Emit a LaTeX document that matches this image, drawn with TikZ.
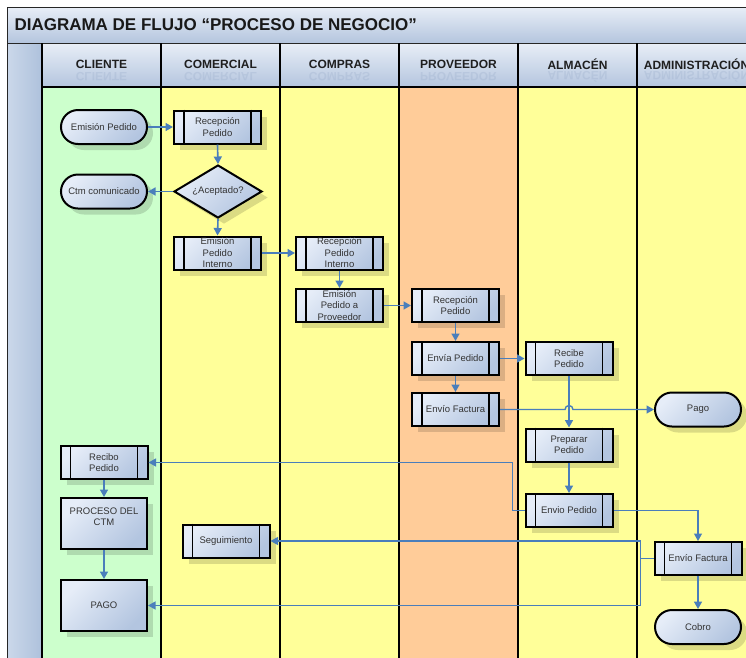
\documentclass[tikz,border=0pt]{standalone}
\usepackage{fontspec}
\setmainfont{Liberation Sans}
\usetikzlibrary{shapes.geometric,arrows.meta,shadows,calc}

\definecolor{lgreen}{HTML}{CCFFCC}
\definecolor{lyellow}{HTML}{FFFF99}
\definecolor{lpeach}{HTML}{FFCC99}
\definecolor{hdtop}{HTML}{E8EEF7}
\definecolor{hdbot}{HTML}{B4C5DE}
\definecolor{bxlight}{HTML}{E6EDF8}
\definecolor{bxdark}{HTML}{B3C5E0}
\definecolor{barl}{HTML}{CBD8EA}
\definecolor{bard}{HTML}{AEC1DC}
\definecolor{cblue}{HTML}{4A7EBB}
\definecolor{txt}{HTML}{333333}
\definecolor{refl}{HTML}{8A9FC0}

\newcommand\ppnode[4]{%
  \node[proc] (#1) at (#2) {#4};
  \draw[line width=1.8pt] ([xshift=#3pt]#1.north west) -- ([xshift=#3pt]#1.south west);
  \draw[line width=1.8pt] ([xshift=-#3pt]#1.north east) -- ([xshift=-#3pt]#1.south east);
}

\begin{document}
\begin{tikzpicture}[x=1pt,y=-1pt,
  box/.style={draw=black, line width=2pt, top color=bxlight, bottom color=bxdark,
    shading angle=45, text=txt, font=\fontsize{9.5}{11.5}\selectfont, align=center,
    inner sep=1pt,
    drop shadow={shadow xshift=6pt, shadow yshift=-6pt, fill=black, opacity=0.14}},
  term/.style={box, rectangle, rounded corners=17pt, minimum width=86pt, minimum height=34pt},
  proc/.style={box, rectangle, minimum width=87pt, minimum height=33pt},
  rectb/.style={box, rectangle, minimum width=86pt, minimum height=51pt},
  dec/.style={box, diamond, minimum width=88pt, minimum height=53pt, aspect=1.66, inner sep=0pt},
  hdr/.style={font=\bfseries\fontsize{12}{14}\selectfont, text=black!88},
  hrefl/.style={hdr, text=refl, opacity=0.22, yscale=-1, transform shape},
  conn/.style={draw=cblue, line width=1.6pt, -{Triangle[length=7.5pt,width=8pt]}},
  thinc/.style={conn, line width=1.2pt},
]
\useasboundingbox (0,0) rectangle (746,657);
\clip (0,0) rectangle (746,657);
\fill[white] (0,0) rectangle (746,657);

% lanes
\fill[lgreen]  (42,87) rectangle (161,660);
\fill[lyellow] (161,87) rectangle (399,660);
\fill[lpeach]  (399,87) rectangle (518,660);
\fill[lyellow] (518,87) rectangle (760,660);

% title bar
\shade[top color=hdtop, bottom color=hdbot] (7,7) rectangle (760,43);
% left bar
\shade[left color=barl, right color=bard] (7,43) rectangle (42,660);
% headers
\foreach \a/\b in {42/161,161/280,280/399,399/518,518/637,637/760}
  \shade[top color=hdtop, bottom color=hdbot] (\a,43) rectangle (\b,87);

\node[anchor=west, font=\bfseries\fontsize{17}{20}\selectfont, text=black!90] (title) at (11,25)
  {DIAGRAMA DE FLUJO “PROCESO DE NEGOCIO”};

\begin{scope}
  \clip (42,43) rectangle (760,86);
  \node[hrefl] at (101.5,77) {CLIENTE};
  \node[hrefl] at (220.5,77) {COMERCIAL};
  \node[hrefl] at (339.5,77) {COMPRAS};
  \node[hrefl] at (458.5,77) {PROVEEDOR};
  \node[hrefl] at (577.5,77) {ALMACÉN};
  \node[hrefl] at (696.5,77) {ADMINISTRACIÓN};
\end{scope}
\node[hdr] (h1) at (101.5,64) {CLIENTE};
\node[hdr] (h2) at (220.5,64) {COMERCIAL};
\node[hdr] (h3) at (339.5,64) {COMPRAS};
\node[hdr] (h4) at (458.5,64) {PROVEEDOR};
\node[hdr] (h5) at (577.5,64) {ALMACÉN};
\node[hdr] (h6) at (696.5,64) {ADMINISTRACIÓN};

% frame lines
\draw[black!85, line width=1pt] (7,7) -- (760,7);
\draw[black!85, line width=1pt] (7,7) -- (7,660);
\draw[black!85, line width=1pt] (7,43) -- (760,43);
\draw[line width=2.4pt] (42,87) -- (760,87);
\foreach \x in {42,161,280,399,518,637}
  \draw[line width=2.4pt] (\x,43) -- (\x,660);

% nodes
\node[term] (ep1) at (104,127) {Emisión Pedido};
\ppnode{rp1}{217.5,127}{11}{Recepción\\Pedido}
\node[dec] (acc) at (218,191.5) {¿Aceptado?};
\node[term] (ctm) at (104,191.5) {Ctm comunicado};
\ppnode{epi}{217.5,253}{11}{Emisión\\Pedido\\Interno}
\ppnode{rpi}{339.5,253}{11}{Recepción\\Pedido\\Interno}
\ppnode{epp}{339.5,305.5}{11}{Emisión\\Pedido a\\Proveedor}
\ppnode{rpp}{455.5,305.5}{11}{Recepción\\Pedido}
\ppnode{envp}{455.5,358.5}{11}{Envía Pedido}
\ppnode{envf}{455.5,409.5}{11}{Envío Factura}
\ppnode{recp}{569,358.5}{11}{Recibe\\Pedido}
\node[term] (pago1) at (698,409.5) {Pago};
\ppnode{prep}{569,445}{11}{Preparar\\Pedido}
\ppnode{envp2}{569,510.5}{11}{Envio Pedido}
\ppnode{envf2}{698,558.5}{11}{Envío Factura}
\node[term] (cobro) at (698,627) {Cobro};
\ppnode{recibo}{104,462.5}{11}{Recibo\\Pedido}
\node[rectb] (pctm) at (104,523.5) {PROCESO DEL\\CTM\\[2pt]};
\node[rectb] (pago2) at (104,605.5) {PAGO};
\ppnode{seg}{226,541}{11}{Seguimiento}

% connectors
\draw[conn] (ep1.east) -- (rp1.west);
\draw[conn] (rp1.south) -- (acc.north);
\draw[conn] (acc.west) -- (ctm.east);
\draw[conn] (acc.south) -- (epi.north);
\draw[conn] (epi.east) -- (rpi.west);
\draw[conn] (rpi.south) -- (epp.north);
\draw[conn] (epp.east) -- (rpp.west);
\draw[conn] (rpp.south) -- (envp.north);
\draw[conn] (envp.east) -- (recp.west);
\draw[conn] (envp.south) -- (envf.north);
\draw[conn] (recp.south) -- (prep.north);
\draw[conn, line width=1.4pt] (envf.east) -- ($(recp.south |- envf.east)+(-4,0)$)
  arc[start angle=180, end angle=0, radius=4pt] -- (pago1.west);
\draw[conn] (prep.south) -- (envp2.north);
\draw[thinc] (envp2.west) -- ++(-12,0) |- (recibo.east);
\draw[thinc] (envp2.east) -| (envf2.north);
\draw[line width=1.2pt, cblue] (envf2.west) -- ++(-13,0) coordinate (jn);
\draw[thinc] (jn) |- (seg.east);
\draw[thinc] (jn) |- (pago2.east);
\draw[conn] (envf2.south) -- (cobro.north);
\draw[conn] (recibo.south) -- (pctm.north);
\draw[conn] (pctm.south) -- (pago2.north);
\end{tikzpicture}
\end{document}
